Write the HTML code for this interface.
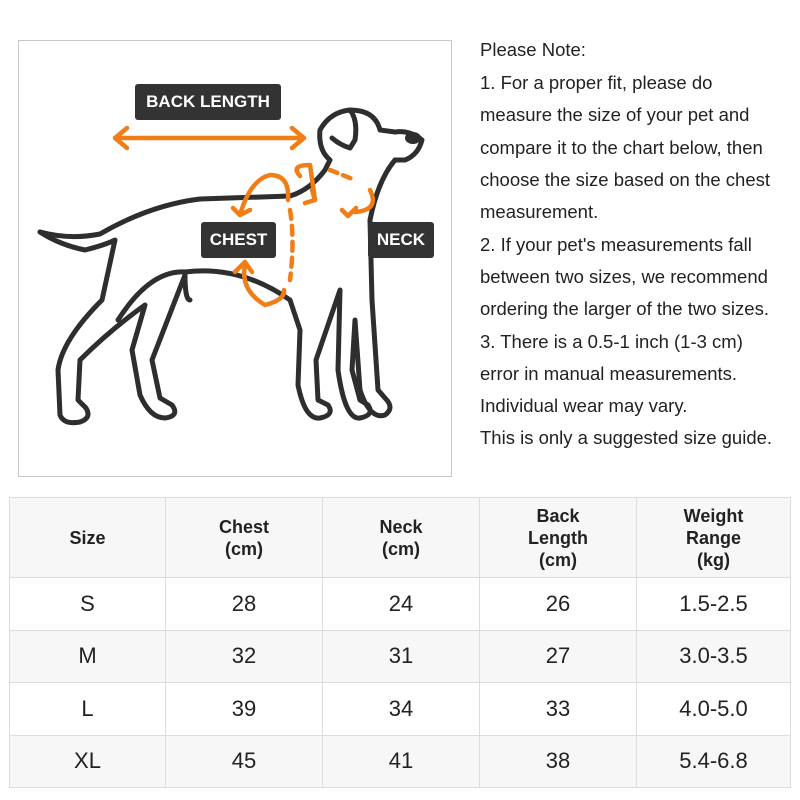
<!DOCTYPE html>
<html><head><meta charset="utf-8"><style>
body{margin:0;width:800px;height:800px;background:#fff;position:relative;overflow:hidden;font-family:"Liberation Sans","Noto Sans CJK SC",sans-serif;color:#222}
.box{position:absolute;left:18px;top:40px;width:432px;height:435px;border:1.5px solid #c8c8c8;background:#fff}
.note{position:absolute;left:480px;font-size:18.5px;white-space:nowrap;color:#222}
table{position:absolute;left:9px;top:497px;border-collapse:collapse;width:782px}
td{border:1.5px solid #dcdcdc;text-align:center;font-size:22px;height:51.5px;padding:0}
tr.h td{font-weight:bold;font-size:18px;height:79px;line-height:22px;background:#f7f7f7}
tr.g td{background:#f7f7f7}
</style></head><body>
<div class="box"></div>
<svg style="position:absolute;left:0;top:0" width="470" height="490" viewBox="0 0 470 490">
<g fill="none" stroke="#2e2e2e" stroke-width="5" stroke-linecap="round" stroke-linejoin="round">
<path d="M40,232 Q70,240 100,234 Q150,205 200,199 L290,196 Q310,190 325,170"/>
<path d="M40,232 Q60,245 85,250 Q105,245 115,240 L102,300 Q62,340 58,370 L60,415 Q64,425 80,422 Q92,418 86,408 L78,400 L80,360 Q110,330 145,305 L132,350 L140,395 Q150,418 165,418 Q180,416 172,405 L160,398 L152,360 L185,275 Q185,300 190,300"/>
<path d="M118,320 Q150,270 185,272 Q240,265 290,300 L300,330 L298,385 Q305,420 320,418 Q335,415 328,405 L318,400 L316,360 L340,290 L338,370 Q345,420 360,418 Q375,415 368,405 L360,400 L352,370 L355,320 L360,390 Q370,420 385,415 Q395,408 385,398 L378,390 L372,300 L370,220 Q378,180 395,160"/>
<path d="M325,170 L330,160 Q318,150 320,130 Q330,112 350,110 Q375,110 380,130 L395,132 Q410,130 422,140 Q418,155 405,160 L395,160"/>
<path d="M350,110 Q358,120 355,140 L350,148 Q340,145 332,138"/>
</g>
<ellipse cx="413" cy="138" rx="8" ry="6" fill="#2e2e2e"/>
<g fill="none" stroke="#f07d16" stroke-width="4.5" stroke-linecap="round" stroke-linejoin="round">
<path d="M117,138 L300,138 M127,128 L115,138 L127,148 M292,128 L304,138 L292,148"/>
<path d="M240,215 Q250,180 270,175 Q290,175 288,200"/>
<path d="M233,208 L240,215 L250,210"/>
<path d="M245,265 Q240,290 265,305 Q285,300 284,290"/>
<path d="M235,272 L245,262 L252,272"/>
<path d="M290,210 Q295,240 290,280" stroke-dasharray="9,7"/>
<path d="M300,176 Q290,165 310,165 L315,200 M305,203 L315,200 L312,190"/>
<path d="M330,170 L355,180" stroke-dasharray="8,6"/>
<path d="M370,190 Q380,210 355,212 M342,210 L348,216 L356,208"/>
</g>
</svg>
<div style="position:absolute;left:135px;top:84px;width:146px;height:36px;background:#333;border-radius:3px;color:#fff;font-weight:bold;font-size:17px;line-height:36px;text-align:center">BACK LENGTH</div>
<div style="position:absolute;left:201px;top:222px;width:75px;height:36px;background:#333;border-radius:3px;color:#fff;font-weight:bold;font-size:17px;line-height:36px;text-align:center">CHEST</div>
<div style="position:absolute;left:368px;top:222px;width:66px;height:36px;background:#333;border-radius:3px;color:#fff;font-weight:bold;font-size:17px;line-height:36px;text-align:center">NECK</div>
<div class="note" style="top:39px">Please Note:</div>
<div class="note" style="top:72px">1. For a proper fit, please do</div>
<div class="note" style="top:104px">measure the size of your pet and</div>
<div class="note" style="top:137px">compare it to the chart below, then</div>
<div class="note" style="top:169px">choose the size based on the chest</div>
<div class="note" style="top:201px">measurement.</div>
<div class="note" style="top:234px">2. If your pet's measurements fall</div>
<div class="note" style="top:266px">between two sizes, we recommend</div>
<div class="note" style="top:298px">ordering the larger of the two sizes.</div>
<div class="note" style="top:331px">3. There is a 0.5-1 inch (1-3 cm)</div>
<div class="note" style="top:363px">error in manual measurements.</div>
<div class="note" style="top:395px">Individual wear may vary.</div>
<div class="note" style="top:427px">This is only a suggested size guide.</div>
<table>
<tr class="h"><td style="width:155px">Size</td><td style="width:156px">Chest<br>(cm)</td><td style="width:156px">Neck<br>(cm)</td><td style="width:156px">Back<br>Length<br>(cm)</td><td>Weight<br>Range<br>(kg)</td></tr>
<tr><td>S</td><td>28</td><td>24</td><td>26</td><td>1.5-2.5</td></tr>
<tr class="g"><td>M</td><td>32</td><td>31</td><td>27</td><td>3.0-3.5</td></tr>
<tr><td>L</td><td>39</td><td>34</td><td>33</td><td>4.0-5.0</td></tr>
<tr class="g"><td>XL</td><td>45</td><td>41</td><td>38</td><td>5.4-6.8</td></tr>
</table>
</body></html>
